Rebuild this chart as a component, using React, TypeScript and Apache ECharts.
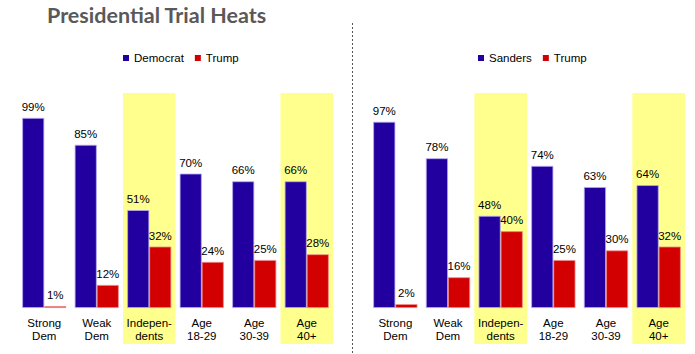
import React, { useEffect, useRef } from "react";
import * as echarts from "echarts";

const categories = ["Strong\nDem", "Weak\nDem", "Indepen-\ndents", "Age\n18-29", "Age\n30-39", "Age\n40+"];
const highlighted = [2, 5];

const leftDemocrat = [99, 85, 51, 70, 66, 66];
const leftTrump = [1, 12, 32, 24, 25, 28];
const rightSanders = [97, 78, 48, 74, 63, 64];
const rightTrump = [2, 16, 40, 25, 30, 32];

const BLUE = "#2200A0";
const RED = "#D20000";
const YELLOW = "#FFFF8E";
const FONT = "'Liberation Sans', Arial, sans-serif";
const FS = 11.5;

function highlightSeries(gridIdx: number) {
  return {
    type: "custom",
    xAxisIndex: gridIdx,
    yAxisIndex: gridIdx,
    z: -1,
    silent: true,
    clip: false,
    data: highlighted.map((i) => [i, 0]),
    encode: { x: 0, y: 1 },
    renderItem: (params: any, api: any) => {
      const pt = api.coord([api.value(0), 0]);
      const w = api.size([1, 0])[0];
      const cs = params.coordSys;
      return {
        type: "rect",
        shape: { x: pt[0] - w / 2, y: cs.y, width: w, height: cs.height + 36 },
        style: { fill: YELLOW },
      };
    },
  };
}

function barSeries(name: string, data: number[], color: string, border: string, gridIdx: number) {
  return {
    type: "bar",
    name,
    data,
    xAxisIndex: gridIdx,
    yAxisIndex: gridIdx,
    barGap: "0%",
    barCategoryGap: "16%",
    itemStyle: { color, borderColor: border, borderWidth: 0.8 },
    label: {
      show: true,
      position: "top",
      distance: 5,
      formatter: "{c}%",
      fontFamily: FONT,
      fontSize: FS,
      color: "#000",
    },
  };
}

function xAxis(gridIdx: number) {
  return {
    type: "category",
    gridIndex: gridIdx,
    data: categories,
    axisLine: { show: false },
    axisTick: { show: false },
    axisLabel: {
      fontFamily: FONT,
      fontSize: FS,
      lineHeight: 13,
      color: "#000",
      margin: 8,
      interval: 0,
    },
  };
}

function yAxis(gridIdx: number) {
  return {
    type: "value",
    gridIndex: gridIdx,
    min: 0,
    max: 112,
    show: false,
    splitLine: { show: false },
  };
}

function legend(names: string[], left: number) {
  return {
    data: names,
    left,
    top: 52,
    padding: 0,
    itemWidth: 6,
    itemHeight: 6,
    itemGap: 11,
    icon: "rect",
    itemStyle: { borderWidth: 0 },
    textStyle: { fontFamily: FONT, fontSize: FS, color: "#000" },
  };
}

export default function App() {
  const ref = useRef<HTMLDivElement>(null);
  useEffect(() => {
    if (!ref.current) return;
    const chart = echarts.init(ref.current, undefined, { renderer: "svg" });
    chart.setOption({
      animation: false,
      backgroundColor: "#fff",
      title: {
        text: "Presidential Trial Heats",
        left: 47,
        top: 4,
        padding: 0,
        textStyle: { fontFamily: "Lato, sans-serif", fontWeight: "bold", fontSize: 21.5, color: "#595959" },
      },
      legend: [legend(["Democrat", "Trump"], 123), legend(["Sanders", "Trump"], 478)],
      grid: [
        { left: 18, width: 315, top: 93, height: 215 },
        { left: 369, width: 316, top: 93, height: 215 },
      ],
      xAxis: [xAxis(0), xAxis(1)],
      yAxis: [yAxis(0), yAxis(1)],
      series: [
        highlightSeries(0),
        highlightSeries(1),
        barSeries("Democrat", leftDemocrat, BLUE, "#b4aaf0", 0),
        barSeries("Trump", leftTrump, RED, "#f08c8c", 0),
        barSeries("Sanders", rightSanders, BLUE, "#b4aaf0", 1),
        barSeries("Trump", rightTrump, RED, "#f08c8c", 1),
      ],
      graphic: [
        {
          type: "line",
          shape: { x1: 352.5, y1: 23, x2: 352.5, y2: 354 },
          style: { stroke: "#555", lineWidth: 1, lineDash: [2, 2] },
        },
      ],
    });
    return () => chart.dispose();
  }, []);
  return <div ref={ref} style={{ position: "fixed", left: 0, top: 0, width: 695, height: 354 }} />;
}
